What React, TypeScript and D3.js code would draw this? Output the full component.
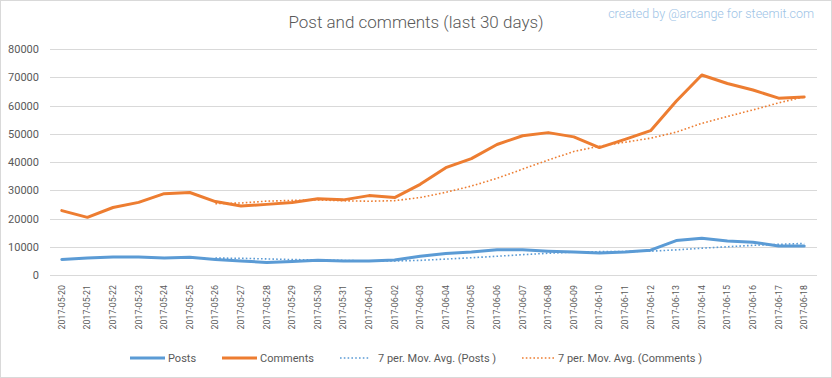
import React from "react";
import * as d3 from "d3";

const categories = [
  "2017-05-20","2017-05-21","2017-05-22","2017-05-23","2017-05-24","2017-05-25","2017-05-26",
  "2017-05-27","2017-05-28","2017-05-29","2017-05-30","2017-05-31","2017-06-01","2017-06-02",
  "2017-06-03","2017-06-04","2017-06-05","2017-06-06","2017-06-07","2017-06-08","2017-06-09",
  "2017-06-10","2017-06-11","2017-06-12","2017-06-13","2017-06-14","2017-06-15","2017-06-16",
  "2017-06-17","2017-06-18",
];
const posts = [5500,6000,6350,6350,6000,6250,5500,4950,4450,4800,5200,4950,4950,5300,6650,7600,8100,8900,8900,8400,8100,7800,8100,8800,12200,13000,12000,11600,10300,10300];
const comments = [22800,20400,23900,25700,28800,29200,26000,24400,25000,25700,27000,26600,28100,27400,32100,38000,41200,46200,49300,50400,48900,45100,48000,51100,61500,70800,67800,65500,62600,63000];
// 7-period moving averages (null = not yet defined)
const postsAvg: (number | null)[] = [null,null,null,null,null,null,5993,5914,5693,5471,5307,5157,4971,4943,5186,5636,6107,6636,7200,7693,8093,8257,8329,8429,8900,9486,10000,10500,10857,11171];
const commentsAvg: (number | null)[] = [null,null,null,null,null,null,25257,25486,26143,26400,26586,26271,26114,26314,27414,29271,31486,34229,37471,40671,43729,45586,46986,48429,50571,53671,56100,58443,60929,63043];
const yTicks = [0,10000,20000,30000,40000,50000,60000,70000,80000];

const W = 832, H = 378;
const M = { left: 49, right: 817, top: 49, bottom: 275 };
const BLUE = "#5B9BD5";
const ORANGE = "#ED7D31";
const TEXT = "#595959";
const FONT = "Roboto, 'Liberation Sans', sans-serif";

export default function App() {
  const x = d3.scaleBand<string>().domain(categories).range([M.left, M.right]);
  const cx = (i: number) => (x(categories[i]) as number) + x.bandwidth() / 2;
  const y = d3.scaleLinear().domain([0, 80000]).range([M.bottom, M.top]);
  const line = d3.line<number | null>()
    .defined((d) => d != null)
    .x((_, i) => cx(i))
    .y((d) => y(d as number));

  return (
    <svg width={W} height={H} style={{ position: "absolute", left: 0, top: 0, background: "#fff" }} fontFamily={FONT}>
      <rect x={0.5} y={0.5} width={W - 1} height={H - 1} fill="#fff" stroke="#d9d9d9" />
      <text x={416} y={28} textAnchor="middle" fontSize={17} fontWeight={300} fill={TEXT}>
        Post and comments (last 30 days)
      </text>
      <text x={814} y={18} textAnchor="end" fontSize={12.5} fontWeight={300} fill="#9DC3E6">
        created by @arcange for steemit.com
      </text>
      {yTicks.map((t) => (
        <g key={t}>
          <line x1={M.left + 1} x2={M.right} y1={Math.round(y(t)) + 0.5} y2={Math.round(y(t)) + 0.5} stroke="#d9d9d9" strokeWidth={1} />
          <text x={39} y={y(t) + 4} textAnchor="end" fontSize={11} fill={TEXT}>{t}</text>
        </g>
      ))}
      {categories.map((c, i) => (
        <text key={c} transform={`translate(${cx(i) + 3},285) rotate(-90)`} textAnchor="end" fontSize={8.8} fill={TEXT}>
          {c}
        </text>
      ))}
      <path d={line(postsAvg) || ""} fill="none" stroke={BLUE} strokeWidth={1.6} strokeDasharray="1.6 2.2" />
      <path d={line(commentsAvg) || ""} fill="none" stroke={ORANGE} strokeWidth={1.6} strokeDasharray="1.6 2.2" />
      <path d={line(posts) || ""} fill="none" stroke={BLUE} strokeWidth={3} strokeLinejoin="round" strokeLinecap="round" />
      <path d={line(comments) || ""} fill="none" stroke={ORANGE} strokeWidth={3} strokeLinejoin="round" strokeLinecap="round" />
      <g fontSize={11} fill={TEXT}>
        <line x1={130} x2={165} y1={358} y2={358} stroke={BLUE} strokeWidth={3} />
        <text x={168} y={362}>Posts</text>
        <line x1={222} x2={257} y1={358} y2={358} stroke={ORANGE} strokeWidth={3} />
        <text x={260} y={362}>Comments</text>
        <line x1={340} x2={370} y1={358} y2={358} stroke={BLUE} strokeWidth={1.6} strokeDasharray="1.6 2.2" />
        <text x={378} y={362}>7 per. Mov. Avg. (Posts )</text>
        <line x1={522} x2={555} y1={358} y2={358} stroke={ORANGE} strokeWidth={1.6} strokeDasharray="1.6 2.2" />
        <text x={558} y={362}>7 per. Mov. Avg. (Comments )</text>
      </g>
    </svg>
  );
}
